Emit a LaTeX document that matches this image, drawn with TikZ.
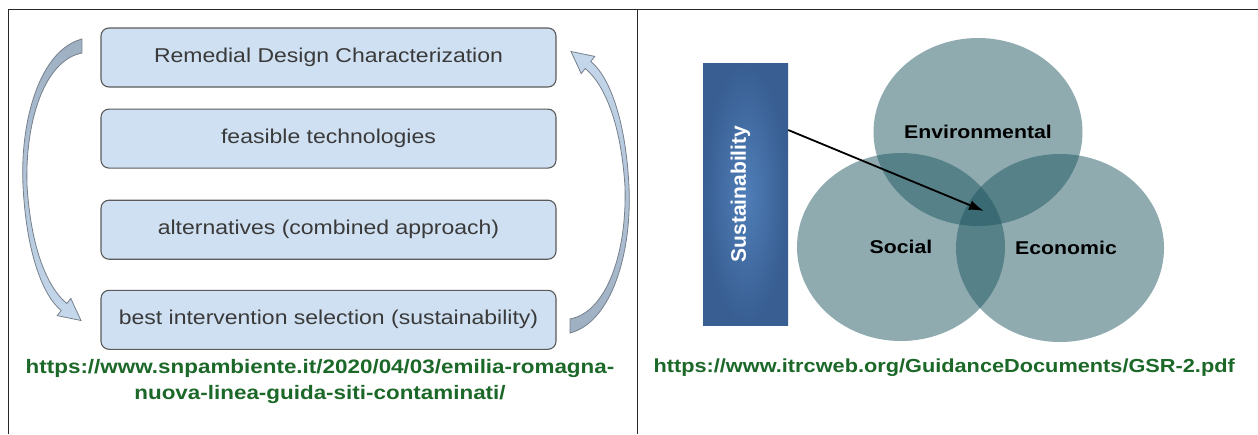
\documentclass[tikz,border=0pt]{standalone}
\usepackage{fontspec}
\setmainfont{Liberation Sans}
\newfontfamily\boxfont[FakeStretch=1.15]{Liberation Sans}
\newfontfamily\linkfont[FakeStretch=1.15]{Liberation Sans}
\usetikzlibrary{positioning,calc,shapes.geometric,arrows.meta}
\definecolor{boxblue}{RGB}{207,224,242}
\definecolor{boxline}{RGB}{90,90,90}
\definecolor{boxtext}{RGB}{58,58,58}
\definecolor{linkgreen}{RGB}{27,104,40}
\definecolor{loopdark}{RGB}{158,175,194}
\definecolor{looplight}{RGB}{197,216,236}
\definecolor{loopline}{RGB}{118,128,140}
\definecolor{circbase}{RGB}{31,87,97}
\definecolor{barlight}{RGB}{80,126,184}
\definecolor{bardark}{RGB}{56,94,146}
\definecolor{framegray}{RGB}{40,40,40}

\begin{document}
\begin{tikzpicture}[x=1pt, y=-1pt,
    stage/.style={draw=boxline, fill=boxblue, line width=1.1pt, rounded corners=8pt,
      minimum width=455pt, minimum height=59pt, inner sep=0pt, text=boxtext,
      font=\boxfont\fontsize{20}{24}\selectfont},
    link/.style={text=linkgreen, font=\linkfont\bfseries\fontsize{19.5}{26}\selectfont},
    pillar/.style={ellipse, minimum width=208pt, minimum height=188pt, inner sep=0pt,
      fill=circbase, fill opacity=.5, text opacity=1,
      font=\boxfont\bfseries\fontsize{18.5}{22}\selectfont},
    loop/.style={draw=loopline, line width=.8pt},
    frame/.style={draw=framegray, line width=1.8pt}]
  \useasboundingbox (0,0) rectangle (1258,434);
  \draw[frame] (8.5,434) -- (8.5,9.5) -- (1258,9.5);
  \draw[frame] (637.5,9.5) -- (637.5,434);

  \node[stage] (design) at (328.5,57.5) {Remedial Design Characterization};
  \node[stage, below=21pt of design] (tech) {feasible technologies};
  \node[stage, below=31pt of tech] (alt) {alternatives (combined approach)};
  \node[stage, below=30pt of alt] (best) {best intervention selection (sustainability)};

  \path[loop, top color=loopdark, bottom color=looplight] (82,39) .. controls (40,50) and (20,120) .. (23,185)
    .. controls (26,250) and (42,295) .. (61.2,310.5) -- (57.2,315.6) -- (81,320.5)
    -- (70.8,298.4) -- (66.8,303.5) .. controls (48,288) and (31,250) .. (27,185)
    .. controls (25,120) and (45,60) .. (82,53) -- cycle;
  \begin{scope}[rotate around={180:(326,186)}]
    \path[loop, top color=looplight, bottom color=loopdark] (82,39) .. controls (40,50) and (20,120) .. (23,185)
      .. controls (26,250) and (42,295) .. (61.2,310.5) -- (57.2,315.6) -- (81,320.5)
      -- (70.8,298.4) -- (66.8,303.5) .. controls (48,288) and (31,250) .. (27,185)
      .. controls (25,120) and (45,60) .. (82,53) -- cycle;
  \end{scope}

  \node[link, align=center] (src1) at (320,381)
    {https://www.snpambiente.it/2020/04/03/emilia-romagna-\\nuova-linea-guida-siti-contaminati/};

  \node[minimum width=85pt, minimum height=262pt, inner sep=0pt,
    inner color=barlight, outer color=bardark] (sus) at (745.5,194) {};
  \node[rotate=90, text=white, font=\bfseries\fontsize{21}{24}\selectfont]
    at ([xshift=-5pt]sus.center) {Sustainability};

  \node[pillar] (env) at (978,132) {Environmental};
  \node[pillar] (soc) at (901,247) {Social};
  \node[pillar] (eco) at (1060,248) {\hspace*{12pt}Economic};
  \coordinate (core) at (984,211);
  \draw[-{Latex[length=15pt,width=10pt]}, line width=1.8pt] ($(sus.east)+(0,-64)$) -- (core);

  \node[link, anchor=west, font=\linkfont\bfseries\fontsize{18.9}{26}\selectfont] (src2) at (650,368)
    {https://www.itrcweb.org/GuidanceDocuments/GSR-2.pdf};
\end{tikzpicture}
\end{document}
